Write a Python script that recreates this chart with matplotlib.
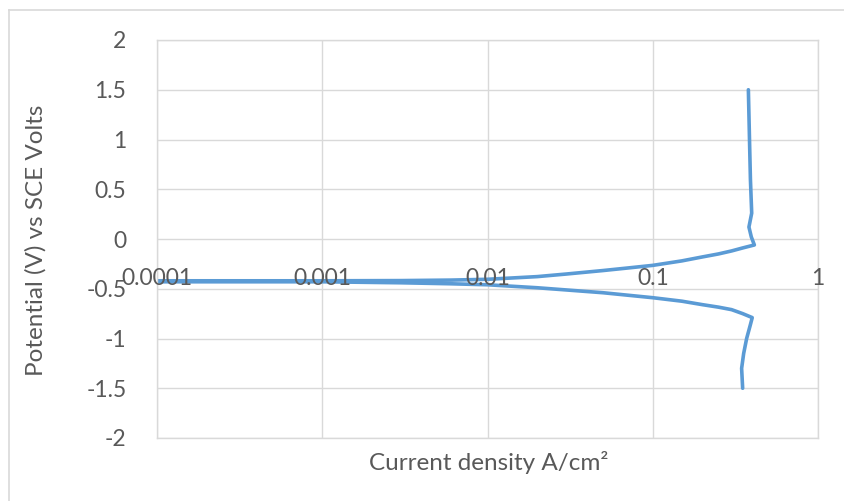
import numpy as np
import matplotlib.pyplot as plt
from matplotlib.lines import Line2D

# anodic branch (from corrosion potential upwards)
anodic_i = [0.0001, 0.0003, 0.001, 0.003, 0.006, 0.01, 0.02, 0.03, 0.05, 0.07, 0.1, 0.15, 0.2,
            0.25, 0.3, 0.35, 0.412, 0.395, 0.382, 0.397, 0.39, 0.385, 0.379]
anodic_e = [-0.42, -0.42, -0.42, -0.418, -0.413, -0.405, -0.378, -0.352, -0.317, -0.292, -0.265,
            -0.22, -0.18, -0.15, -0.12, -0.09, -0.06, 0.02, 0.12, 0.26, 0.6, 1.0, 1.5]

# cathodic branch (from corrosion potential downwards)
cathodic_i = [0.0001, 0.001, 0.003, 0.006, 0.01, 0.02, 0.05, 0.1, 0.15, 0.2, 0.25, 0.3, 0.35,
              0.4, 0.39, 0.37, 0.355, 0.345, 0.35]
cathodic_e = [-0.43, -0.43, -0.44, -0.45, -0.46, -0.49, -0.54, -0.59, -0.625, -0.66, -0.685,
              -0.71, -0.75, -0.79, -0.86, -1.0, -1.15, -1.3, -1.5]

x_ticks = [0.0001, 0.001, 0.01, 0.1, 1]
x_labels = ['0.0001', '0.001', '0.01', '0.1', '1']
y_ticks = [2, 1.5, 1, 0.5, 0, -0.5, -1, -1.5, -2]
y_labels = ['2', '1.5', '1', '0.5', '0', '-0.5', '-1', '-1.5', '-2']

plt.rcParams['font.family'] = ['Lato', 'DejaVu Sans']
txt = '#595959'
grid = '#D9D9D9'
blue = '#5B9BD5'

fig = plt.figure(figsize=(8.44, 5.01), dpi=100)
ax = fig.add_axes([157/844, 1-438/501, (818-157)/844, (438-40)/501])

ax.plot(anodic_i, anodic_e, color=blue, lw=2.6, solid_capstyle='round', solid_joinstyle='round')
ax.plot(cathodic_i, cathodic_e, color=blue, lw=2.6, solid_capstyle='round', solid_joinstyle='round')

ax.set_xscale('log')
ax.set_xlim(0.0001, 1)
ax.set_ylim(-2, 2)
ax.set_xticks(x_ticks)
ax.set_xticklabels([])
ax.minorticks_off()
ax.set_yticks(y_ticks)
ax.set_yticklabels(y_labels, fontsize=16.5, color=txt)
ax.tick_params(axis='both', length=0, pad=22)
ax.grid(True, color=grid, lw=1)
for s in ax.spines.values():
    s.set_color(grid)
    s.set_linewidth(1)
ax.set_axisbelow(True)

for xv, lab in zip(x_ticks, x_labels):
    ax.text(xv, -0.40, lab, ha='center', va='center', fontsize=16.5, color=txt, clip_on=False)

fig.text(489/844, 1-463/501, 'Current density A/cm²', ha='center', va='center', fontsize=17.5, color=txt)
fig.text(36/844, 1-240/501, 'Potential (V) vs SCE Volts', ha='center', va='center',
         rotation=90, fontsize=17.5, color=txt)

# outer chart border (partly cropped)
fig.add_artist(Line2D([9/844, 9/844], [0, 1-10/501], color=grid, lw=1.2, transform=fig.transFigure))
fig.add_artist(Line2D([9/844, 1], [1-10/501, 1-10/501], color=grid, lw=1.2, transform=fig.transFigure))

fig.savefig('out.png', dpi=100)
